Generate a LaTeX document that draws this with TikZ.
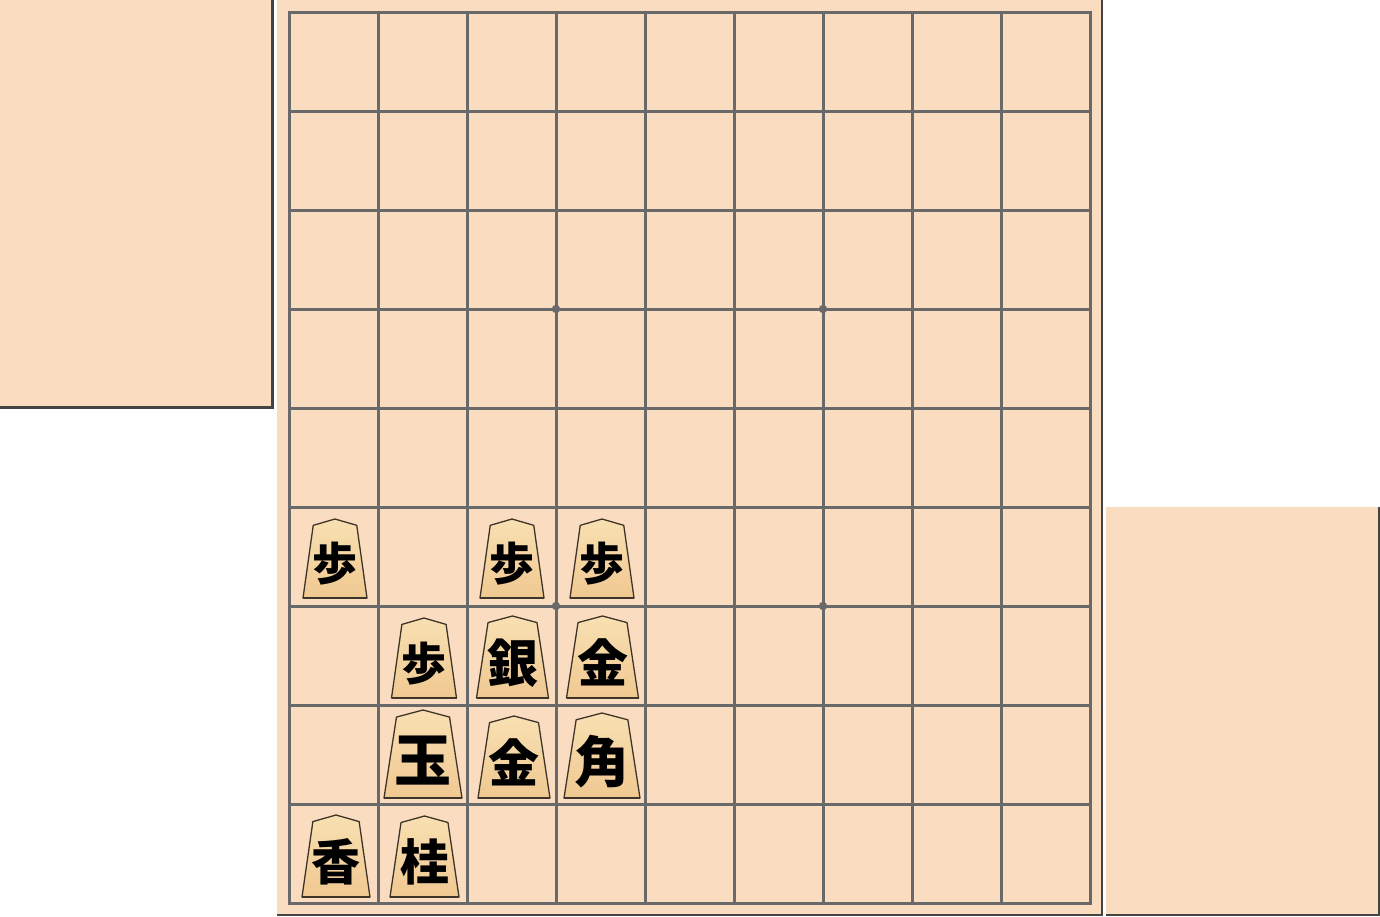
\documentclass[tikz,border=0pt]{standalone}
\usepackage{fontspec}
\usepackage{tikz}
\newfontfamily\komafont{Noto Sans CJK JP}

\definecolor{ban}{RGB}{250,221,192}
\definecolor{sen}{RGB}{105,105,105}
\definecolor{kage}{RGB}{68,68,68}
\definecolor{kiji}{RGB}{248,224,178}
\definecolor{kijidark}{RGB}{240,200,145}
\definecolor{fuchi}{RGB}{62,52,40}

\tikzset{
	masu/.style={draw=sen, line width=3},
	komaface/.style={top color=kiji, bottom color=kijidark, draw=fuchi, line width=1.3, line join=round},
	kanji/.style={inner sep=0pt, text=black}
}

% name, center x, bottom y, width, height, font size, kanji
\newcommand{\koma}[7]{%
	\shadedraw[komaface] (#2-0.5*#4,#3) -- (#2-0.34*#4,#3-0.92*#5) -- (#2,#3-#5)
		-- (#2+0.34*#4,#3-0.92*#5) -- (#2+0.5*#4,#3) -- cycle;
	\draw[fuchi, line width=2.6] (#2-0.5*#4,#3) -- (#2+0.5*#4,#3);
	\node[kanji, font=\komafont\bfseries\fontsize{#6}{#6}\selectfont] (#1) at (#2,#3-0.43*#5) {#7};
}

\begin{document}
\begin{tikzpicture}[x=1pt, y=-1pt]
	\useasboundingbox (0,0) rectangle (1380,916);
	% komadai
	\fill[kage] (0,0) rectangle (273.5,408.5);
	\fill[ban] (0,0) rectangle (271,406);
	\fill[kage] (1106,507) rectangle (1380,916);
	\fill[ban] (1106,507) rectangle (1378,914);
	% ban
	\fill[kage] (277,0) rectangle (1103,916);
	\fill[ban] (277,0) rectangle (1101,914);
	\begin{scope}[shift={(289,12)}]
		\draw[masu, xstep=89pt, ystep=99pt] (0,0) grid (801,891);
		\draw[masu] (0,0) rectangle (801,891);
	\end{scope}
	\fill[sen] (556,309) circle (4.2);
	\fill[sen] (823,309) circle (4.2);
	\fill[sen] (556,606) circle (4.2);
	\fill[sen] (823,606) circle (4.2);
	% koma
	\koma{fu1}{335}{598}{64}{79}{45}{歩}
	\koma{fu2}{512}{598}{64}{79}{45}{歩}
	\koma{fu3}{602}{598}{64}{79}{45}{歩}
	\koma{fu4}{424}{698}{65}{80}{45}{歩}
	\koma{gin}{512.5}{698}{72}{82}{51}{銀}
	\koma{kin1}{602.5}{698}{72}{82}{51}{金}
	\koma{gyoku}{423}{798}{78}{88}{57}{玉}
	\koma{kin2}{514}{798}{72}{82}{51}{金}
	\koma{kaku}{602}{798}{76}{85}{55}{角}
	\koma{kyo}{336}{897}{68}{82}{49}{香}
	\koma{kei}{424.5}{897}{69}{81}{49}{桂}
\end{tikzpicture}
\end{document}
